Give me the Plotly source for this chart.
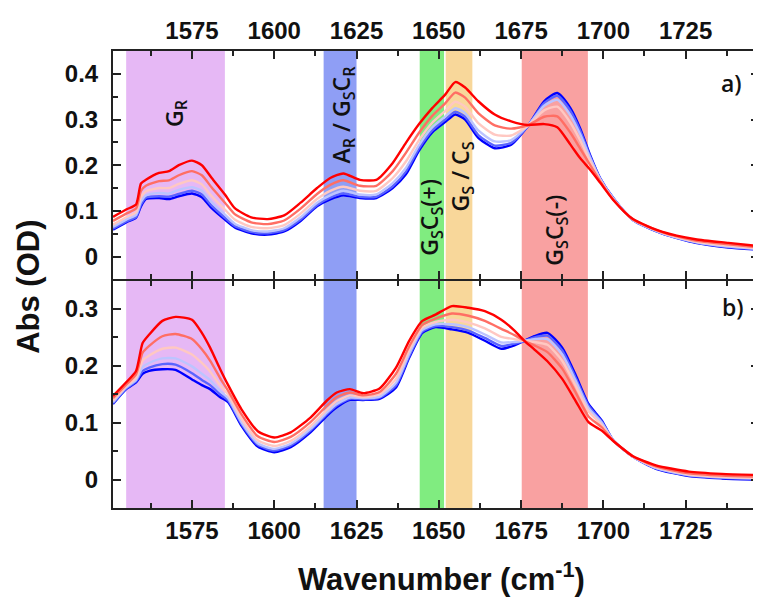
import plotly.graph_objects as go

# ---------------- data ----------------
wn_a = [1551, 1555, 1558, 1559.5, 1561, 1565, 1568, 1571, 1575, 1578, 1581, 1585, 1588, 1593,
        1598, 1603, 1608, 1613, 1617, 1621, 1626, 1631, 1636, 1640, 1644, 1648, 1652, 1655,
        1658, 1662, 1667, 1672, 1677, 1682, 1686, 1690, 1693, 1696, 1699, 1703, 1709, 1718,
        1728, 1738, 1747]

a_t0 = [.059, .075, .085, .110, .126, .128, .126, .132, .138, .130, .106, .081, .064, .051,
        .048, .055, .078, .110, .125, .134, .128, .128, .150, .180, .232, .272, .295, .311,
        .300, .260, .237, .245, .285, .340, .358, .325, .280, .222, .172, .128, .080, .050,
        .030, .020, .015]
a_t1 = [.061, .077, .087, .114, .129, .132, .131, .137, .144, .136, .111, .085, .067, .054,
        .051, .058, .081, .113, .129, .138, .131, .131, .154, .186, .237, .276, .300, .317,
        .306, .266, .243, .249, .285, .336, .352, .319, .275, .219, .171, .128, .080, .050,
        .031, .021, .016]
a_t2 = [.065, .081, .091, .120, .134, .139, .138, .146, .152, .144, .119, .092, .072, .058,
        .055, .062, .086, .118, .134, .144, .136, .136, .161, .194, .244, .283, .307, .325,
        .314, .276, .252, .255, .286, .330, .343, .309, .267, .216, .170, .127, .080, .051,
        .032, .022, .017]
a_t3 = [.070, .086, .097, .130, .143, .150, .150, .159, .167, .158, .132, .103, .081, .065,
        .062, .069, .094, .126, .144, .153, .144, .144, .172, .208, .255, .293, .319, .339,
        .328, .292, .267, .265, .286, .320, .328, .293, .254, .209, .168, .126, .081, .052,
        .033, .024, .018]
a_t4 = [.078, .094, .105, .144, .155, .165, .167, .178, .187, .178, .151, .118, .093, .075,
        .071, .079, .105, .137, .157, .167, .155, .155, .187, .227, .271, .308, .336, .359,
        .348, .314, .287, .280, .287, .306, .307, .271, .236, .200, .165, .125, .081, .053,
        .035, .027, .020]
a_t5 = [.087, .103, .114, .160, .168, .183, .187, .200, .210, .200, .172, .136, .106, .086,
        .082, .090, .118, .150, .172, .182, .168, .168, .205, .249, .290, .325, .355, .382,
        .370, .340, .311, .296, .288, .290, .283, .245, .215, .190, .162, .124, .082, .054,
        .038, .030, .023]

wn_b = [1551, 1555, 1558, 1560, 1562, 1566, 1570, 1575, 1578, 1580.5, 1583.5, 1586, 1590,
        1595, 1600, 1605, 1611, 1616, 1619, 1623, 1627, 1632, 1637, 1641, 1645, 1649, 1654,
        1659, 1664, 1669, 1673, 1676, 1679, 1683, 1687.5, 1691.5, 1695.5, 1699.5, 1703, 1709,
        1716, 1726, 1736, 1747]

b_t0 = [.133, .159, .171, .186, .191, .194, .193, .176, .166, .159, .145, .136, .095,
        .058, .048, .057, .083, .112, .127, .140, .140, .142, .162, .214, .258, .268, .264,
        .258, .244, .230, .236, .244, .252, .258, .232, .185, .133, .104, .069, .040,
        .019, .006, .002, .000]
b_t1 = [.134, .160, .173, .191, .197, .203, .202, .187, .175, .166, .150, .139, .098,
        .061, .051, .060, .086, .115, .130, .142, .141, .144, .166, .217, .260, .270, .268,
        .262, .249, .235, .239, .244, .250, .253, .227, .180, .130, .102, .069, .040,
        .020, .007, .003, .001]
b_t2 = [.136, .162, .175, .198, .205, .213, .213, .199, .186, .175, .156, .143, .101,
        .064, .054, .063, .089, .118, .133, .144, .143, .146, .170, .221, .263, .273, .273,
        .268, .255, .241, .242, .244, .247, .247, .220, .175, .126, .100, .069, .040,
        .020, .008, .004, .002]
b_t3 = [.139, .164, .179, .209, .218, .230, .232, .220, .205, .190, .166, .149, .107,
        .069, .059, .068, .094, .123, .138, .148, .145, .150, .177, .227, .267, .277, .281,
        .276, .266, .251, .247, .244, .242, .237, .209, .166, .120, .096, .069, .040,
        .022, .009, .005, .003]
b_t4 = [.143, .167, .185, .223, .235, .252, .256, .247, .229, .209, .179, .156, .115,
        .076, .066, .075, .101, .130, .145, .153, .148, .154, .186, .234, .272, .283, .292,
        .288, .279, .265, .254, .244, .236, .224, .195, .154, .111, .092, .068, .041,
        .023, .011, .007, .005]
b_t5 = [.147, .171, .191, .240, .255, .279, .286, .281, .258, .232, .195, .166, .124,
        .085, .074, .083, .109, .139, .153, .159, .152, .160, .197, .244, .279, .290, .305,
        .302, .296, .281, .262, .244, .229, .208, .177, .139, .101, .086, .068, .041,
        .025, .014, .010, .008]

curve_colors = ["#0000ff", "#5a64ff", "#bcc4ff", "#ffc8c2", "#ff6e64", "#ff0000"]

band_start = [1555, 1615, 1644.2, 1652.1, 1675.2]
band_end = [1585, 1625, 1651.6, 1660.2, 1695.3]
band_colors = ["#e6b8f5", "#8f9ef5", "#80ec80", "#f8d79a", "#f9a1a1"]

band_labels = ["G<sub>R</sub>", "A<sub>R</sub> / G<sub>S</sub>C<sub>R</sub>",
               "G<sub>S</sub>C<sub>S</sub>(+)", "G<sub>S</sub> / C<sub>S</sub>",
               "G<sub>S</sub>C<sub>S</sub>(-)"]

x_ticks = [1575, 1600, 1625, 1650, 1675, 1700, 1725]

# ---------------- figure ----------------
fig = go.Figure()

panel_a = [a_t0, a_t1, a_t2, a_t3, a_t4, a_t5]
panel_b = [b_t0, b_t1, b_t2, b_t3, b_t4, b_t5]

for ys, col in zip(panel_a, curve_colors):
    fig.add_trace(go.Scatter(x=wn_a, y=ys, mode="lines",
                             line=dict(color=col, width=2.4, shape="spline", smoothing=0.6),
                             xaxis="x", yaxis="y", showlegend=False, hoverinfo="skip"))
for ys, col in zip(panel_b, curve_colors):
    fig.add_trace(go.Scatter(x=wn_b, y=ys, mode="lines",
                             line=dict(color=col, width=2.4, shape="spline", smoothing=0.6),
                             xaxis="x2", yaxis="y2", showlegend=False, hoverinfo="skip"))

for s, e, c in zip(band_start, band_end, band_colors):
    fig.add_shape(type="rect", xref="x", yref="paper", x0=s, x1=e, y0=0, y1=1,
                  fillcolor=c, line=dict(width=0), layer="below")

tick_font = dict(family="Liberation Sans, Arial", size=24, color="#111", weight=700)
axis_common = dict(showline=True, linecolor="#222", linewidth=2, mirror="ticks",
                   ticks="inside", ticklen=8, tickwidth=1.5, tickcolor="#222",
                   showgrid=False, zeroline=False, tickfont=tick_font)
minor_x = dict(ticks="inside", ticklen=5, tickwidth=1.5, tickcolor="#222", dtick=12.5, tick0=1550)
minor_y = dict(ticks="inside", ticklen=5, tickwidth=1.5, tickcolor="#222", dtick=0.05, tick0=0)

# page body has an 8px margin: the figure is sized/placed to compensate
H = 457.0
gap = 1.0 / H
xr = [1551, 1747.3]
fig.update_layout(
    width=753, height=598,
    margin=dict(l=105, r=0, t=43, b=98),
    paper_bgcolor="white", plot_bgcolor="rgba(0,0,0,0)",
    font=dict(family="Liberation Sans, Arial", size=24, color="#111"),
    xaxis=dict(domain=[0, 1], anchor="y", side="top", range=xr, tickvals=x_ticks,
               minor=minor_x, **axis_common),
    xaxis2=dict(domain=[0, 1], anchor="y2", side="bottom", range=xr, tickvals=x_ticks, matches="x",
                minor=minor_x, **axis_common),
    yaxis=dict(domain=[0.5 + gap, 1], anchor="x", range=[-0.048, 0.45], tick0=0, dtick=0.1,
               minor=minor_y, ticklabelstandoff=8, **axis_common),
    yaxis2=dict(domain=[0, 0.5 - gap], anchor="x2", range=[-0.05, 0.35], tick0=0, dtick=0.1,
                minor=minor_y, ticklabelstandoff=8, **axis_common),
)

label_font = dict(family="Open Sans", size=23, color="#111", weight=600)
label_pos = [(0.0957, 0.864), (0.355, 0.862), (0.492, 0.637), (0.539, 0.726), (0.685, 0.608)]
for txt, (px, py) in zip(band_labels, label_pos):
    fig.add_annotation(text=txt, xref="paper", yref="paper", x=px, y=py, textangle=-90,
                       showarrow=False, font=label_font, xanchor="center", yanchor="middle")

panel_font = dict(family="Open Sans", size=23, color="#111", weight=600)
fig.add_annotation(text="a)", xref="paper", yref="paper", x=0.957, y=0.930, showarrow=False,
                   font=panel_font, xanchor="center", yanchor="middle")
fig.add_annotation(text="b)", xref="paper", yref="paper", x=0.960, y=0.440, showarrow=False,
                   font=panel_font, xanchor="center", yanchor="middle")

title_font = dict(family="Liberation Sans, Arial", size=31, color="#111", weight=700)
fig.add_annotation(text="Wavenumber (cm<sup>-1</sup>)", xref="paper", yref="paper", x=0.508, y=-0.151,
                   showarrow=False, font=title_font, xanchor="center", yanchor="middle")
fig.add_annotation(text="Abs (OD)", xref="paper", yref="paper", x=-0.130, y=0.484, textangle=-90,
                   showarrow=False, font=title_font, xanchor="center", yanchor="middle")

fig.write_html("out.html")
